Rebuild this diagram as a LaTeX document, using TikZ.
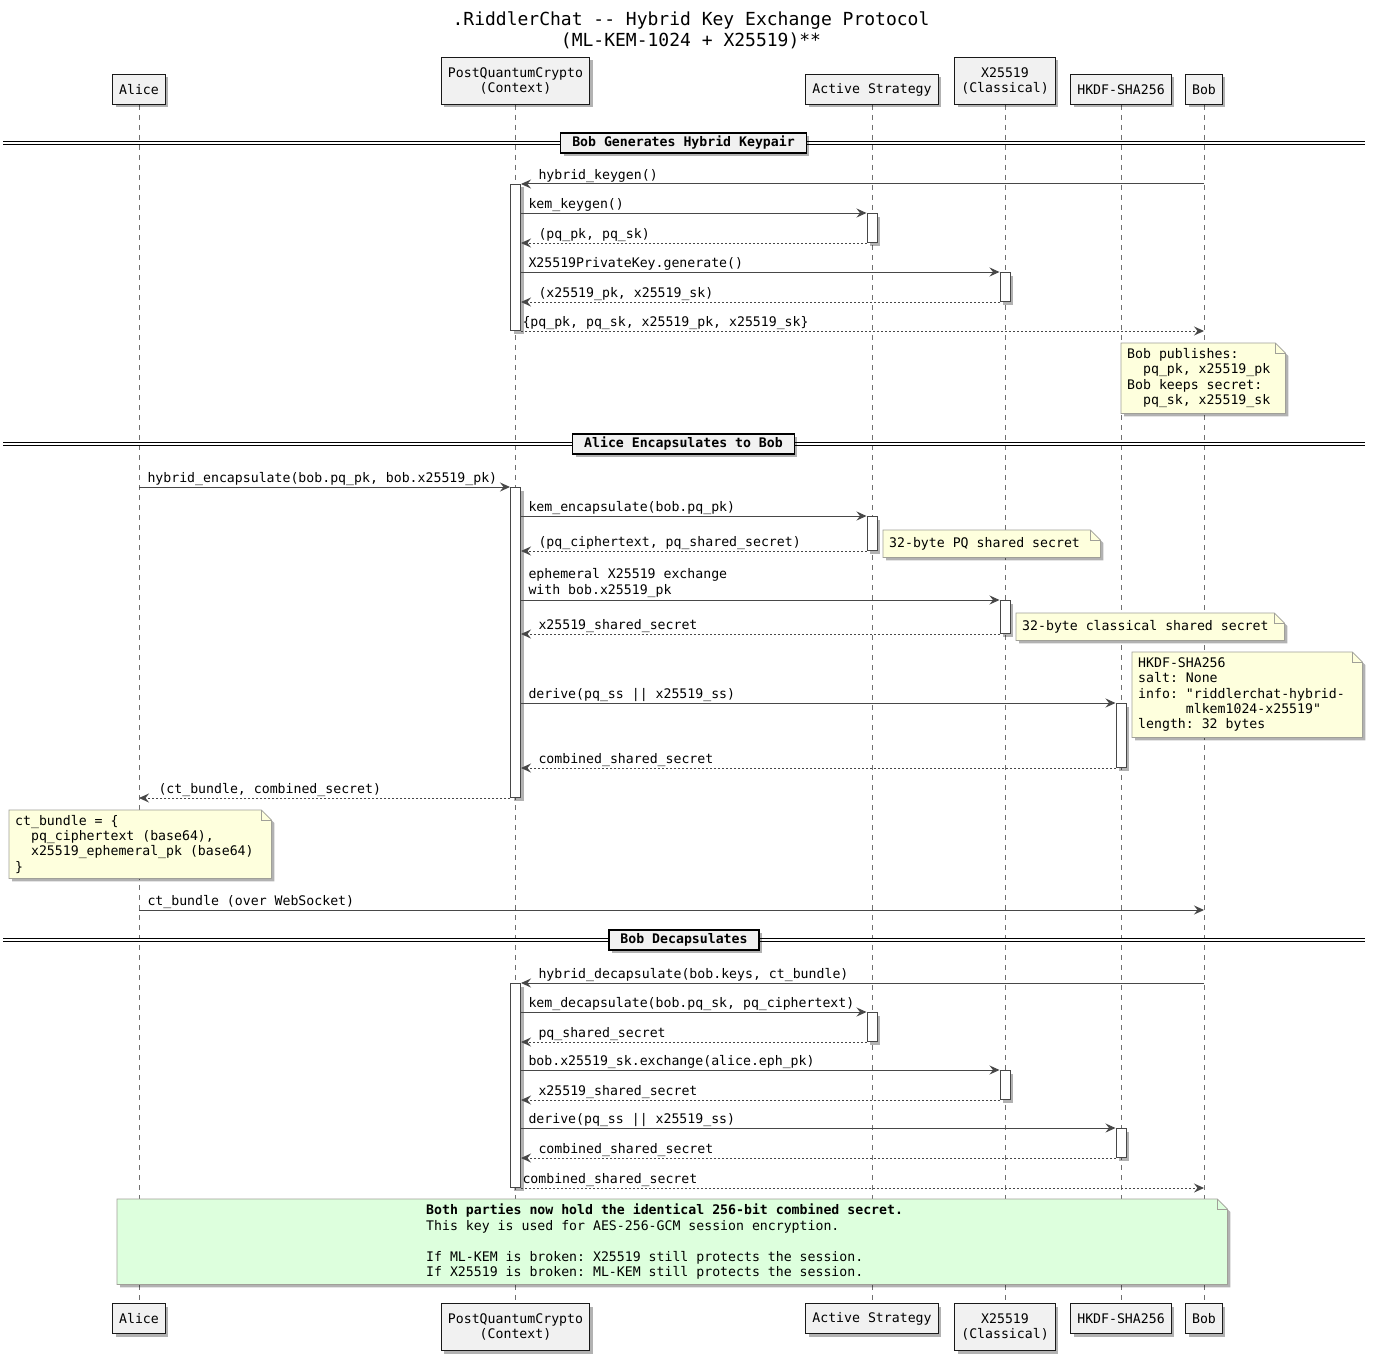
\documentclass[tikz,border=0pt]{standalone}
\usepackage{fontspec}
\setmonofont{DejaVu Sans Mono}
\usetikzlibrary{arrows.meta,shadows,positioning}
\definecolor{linecol}{HTML}{474747}
\definecolor{lifecol}{HTML}{707070}
\definecolor{boxfill}{HTML}{F1F1F1}
\definecolor{notefill}{HTML}{FEFFDD}
\definecolor{notedraw}{HTML}{A0A098}
\definecolor{greenfill}{HTML}{DDFFDD}
\pgfdeclarelayer{lines}
\pgfdeclarelayer{notes}
\pgfsetlayers{lines,notes,main}
\newcommand{\seqfont}{\ttfamily\fontsize{13.2}{15.4}\selectfont}
\newcommand{\lifebar}[4]{\node[actbar, minimum height=#4-#3, anchor=north] (#1) at (#2 |- 0,#3) {};}
\newcommand{\foldnote}[2]{%
  \begin{pgfonlayer}{notes}
    \draw[draw=notedraw, fill=#2, line width=0.8pt, softshadow] (#1.north west) -- ([xshift=-10pt]#1.north east) -- ([yshift=-10pt]#1.north east) -- (#1.south east) -- (#1.south west) -- cycle;
    \draw[draw=notedraw, line width=0.8pt] ([xshift=-10pt]#1.north east) |- ([yshift=-10pt]#1.north east);
  \end{pgfonlayer}}
\begin{document}
\begin{tikzpicture}[x=1pt,y=-1pt,
    softshadow/.style={drop shadow={shadow xshift=3pt, shadow yshift=-3pt, opacity=0.3, fill=black}},
    participant/.style={draw=black!90, fill=boxfill, line width=1pt, font=\seqfont, align=center, inner xsep=6.5pt, inner ysep=2pt, minimum height=30pt, softshadow},
    lifeline/.style={draw=lifecol, line width=0.8pt, dash pattern=on 5pt off 5pt},
    actbar/.style={draw=linecol, fill=white, line width=1pt, minimum width=10pt, inner sep=0pt, softshadow},
    msg/.style={draw=linecol, line width=1pt, -{Stealth[length=10pt,width=9pt,inset=3.5pt]}},
    reply/.style={msg, dash pattern=on 2pt off 2pt},
    say/.style={pos=0, anchor=base west, inner sep=0pt, font=\seqfont, xshift=7pt, yshift=5pt},
    sayback/.style={say, pos=1, xshift=10pt},
    divider/.style={draw=black, fill=boxfill, line width=1.5pt, font=\seqfont\bfseries, inner xsep=11.5pt, inner ysep=0pt, minimum height=20pt, softshadow},
    splitline/.style={draw=black, line width=1pt, double distance=2pt},
    note/.style={anchor=north west, font=\seqfont, align=left, inner xsep=6pt, inner ysep=0pt, execute at begin node={\setlength{\parindent}{0pt}\spaceskip=0pt\xspaceskip=0pt}}]
\useasboundingbox (0,0) rectangle (1375,1359);

\node[font=\ttfamily\fontsize{18}{21}\selectfont, align=center, inner sep=0pt, anchor=north] (title) at (691,12) {.RiddlerChat -- Hybrid Key Exchange Protocol\\(ML-KEM-1024 + X25519)**};

\node[participant, anchor=south] (alice) at (139,105) {Alice};
\node[participant, anchor=south, minimum height=47pt] (pqc) at (515.5,105) {PostQuantumCrypto\\(Context)};
\node[participant, anchor=south] (strat) at (872,105) {Active Strategy};
\node[participant, anchor=south, minimum height=47pt] (xcl) at (1005,105) {X25519\\(Classical)};
\node[participant, anchor=south] (hkdf) at (1121,105) {HKDF-SHA256};
\node[participant, anchor=south] (bob) at (1204,105) {Bob};

\node[participant, anchor=north] (alice2) at (139,1303) {Alice};
\node[participant, anchor=north, minimum height=47pt] (pqc2) at (515.5,1303) {PostQuantumCrypto\\(Context)};
\node[participant, anchor=north] (strat2) at (872,1303) {Active Strategy};
\node[participant, anchor=north, minimum height=47pt] (xcl2) at (1005,1303) {X25519\\(Classical)};
\node[participant, anchor=north] (hkdf2) at (1121,1303) {HKDF-SHA256};
\node[participant, anchor=north] (bob2) at (1204,1303) {Bob};

\begin{pgfonlayer}{lines}
  \fill[white] (0,0) rectangle (1375,1359);
  \foreach \p in {alice,pqc,strat,xcl,hkdf,bob}
    \draw[lifeline] (\p) -- (\p2);
\end{pgfonlayer}

\draw[splitline] (3,143) -- (1365,143);
\node[divider] (split1) at (683.5,143) {Bob Generates Hybrid Keypair};

\lifebar{pqA}{pqc}{184}{330}
\lifebar{stA}{strat}{213}{242}
\lifebar{xA}{xcl}{272}{301}
\draw[msg] (bob |- pqA.north) -- node[sayback] {hybrid\_keygen()} (pqA.north east);
\draw[msg] (pqA.east |- stA.north) -- node[say] {kem\_keygen()} (stA.north west);
\draw[reply] (stA.south west) -- node[sayback] {(pq\_pk, pq\_sk)} (pqA.east |- stA.south);
\draw[msg] (pqA.east |- xA.north) -- node[say] {X25519PrivateKey.generate()} (xA.north west);
\draw[reply] (xA.south west) -- node[sayback] {(x25519\_pk, x25519\_sk)} (pqA.east |- xA.south);
\draw[reply] (pqA.south east) -- node[say, xshift=-6pt] {\{pq\_pk, pq\_sk, x25519\_pk, x25519\_sk\}} (bob |- pqA.south);

\node[note, text width=152pt, minimum height=70pt] (pubnote) at (1121,343) {Bob publishes:\\~~pq\_pk, x25519\_pk\\Bob keeps secret:\\~~pq\_sk, x25519\_sk};
\foldnote{pubnote}{notefill}

\draw[splitline] (3,444) -- (1365,444);
\node[divider] (split2) at (683.5,444) {Alice Encapsulates to Bob};

\lifebar{pqB}{pqc}{487}{797}
\lifebar{stB}{strat}{516}{550}
\lifebar{xB}{xcl}{600}{633}
\lifebar{hkB}{hkdf}{703}{767}
\draw[msg] (alice |- pqB.north) -- node[say, xshift=1pt] {hybrid\_encapsulate(bob.pq\_pk, bob.x25519\_pk)} (pqB.north west);
\draw[msg] (pqB.east |- stB.north) -- node[say] {kem\_encapsulate(bob.pq\_pk)} (stB.north west);
\draw[reply] (stB.south west) -- node[sayback] {(pq\_ciphertext, pq\_shared\_secret)} (pqB.east |- stB.south);
\node[note, text width=205pt, minimum height=27pt] (pqnote) at (883,530) {32-byte PQ shared secret};
\foldnote{pqnote}{notefill}
\draw[msg] (pqB.east |- xB.north) -- node[say, anchor=south west, align=left, yshift=-3pt] {ephemeral X25519 exchange\\with bob.x25519\_pk} (xB.north west);
\draw[reply] (xB.south west) -- node[sayback] {x25519\_shared\_secret} (pqB.east |- xB.south);
\node[note, text width=256pt, minimum height=27pt] (clnote) at (1016,613) {32-byte classical shared secret};
\foldnote{clnote}{notefill}
\node[note, text width=218pt, minimum height=85pt] (kdfnote) at (1132,652) {HKDF-SHA256\\salt: None\\info: "riddlerchat-hybrid-\\~~~~~~mlkem1024-x25519"\\length: 32 bytes};
\foldnote{kdfnote}{notefill}
\draw[msg] (pqB.east |- hkB.north) -- node[say] {derive(pq\_ss || x25519\_ss)} (hkB.north west);
\draw[reply] (hkB.south west) -- node[sayback] {combined\_shared\_secret} (pqB.east |- hkB.south);
\draw[reply] (pqB.south west) -- node[sayback, xshift=2pt] {(ct\_bundle, combined\_secret)} (alice |- pqB.south);

\node[note, text width=250pt, minimum height=68pt] (ctnote) at (9,810) {ct\_bundle = \{\\~~pq\_ciphertext (base64),\\~~x25519\_ephemeral\_pk (base64)\\\}};
\foldnote{ctnote}{notefill}
\draw[msg] (alice |- 0,910) -- node[say, xshift=1pt] {ct\_bundle (over WebSocket)} (bob |- 0,910);

\draw[splitline] (3,940) -- (1365,940);
\node[divider] (split3) at (684,940) {Bob Decapsulates};

\lifebar{pqC}{pqc}{983}{1187}
\lifebar{stC}{strat}{1012}{1041}
\lifebar{xC}{xcl}{1070}{1099}
\lifebar{hkC}{hkdf}{1128}{1157}
\draw[msg] (bob |- pqC.north) -- node[sayback] {hybrid\_decapsulate(bob.keys, ct\_bundle)} (pqC.north east);
\draw[msg] (pqC.east |- stC.north) -- node[say] {kem\_decapsulate(bob.pq\_sk, pq\_ciphertext)} (stC.north west);
\draw[reply] (stC.south west) -- node[sayback] {pq\_shared\_secret} (pqC.east |- stC.south);
\draw[msg] (pqC.east |- xC.north) -- node[say] {bob.x25519\_sk.exchange(alice.eph\_pk)} (xC.north west);
\draw[reply] (xC.south west) -- node[sayback] {x25519\_shared\_secret} (pqC.east |- xC.south);
\draw[msg] (pqC.east |- hkC.north) -- node[say] {derive(pq\_ss || x25519\_ss)} (hkC.north west);
\draw[reply] (hkC.south west) -- node[sayback] {combined\_shared\_secret} (pqC.east |- hkC.south);
\draw[reply] (pqC.south east) -- node[say, xshift=-6pt] {combined\_shared\_secret} (bob |- pqC.south);

\node[note, text width=1098pt, minimum height=85pt] (endnote) at (117,1199) {\leftskip=303pt {\bfseries Both parties now hold the identical 256-bit combined secret.}\\This key is used for AES-256-GCM session encryption.\\[\baselineskip]If ML-KEM is broken: X25519 still protects the session.\\If X25519 is broken: ML-KEM still protects the session.\par};
\foldnote{endnote}{greenfill}
\end{tikzpicture}
\end{document}
